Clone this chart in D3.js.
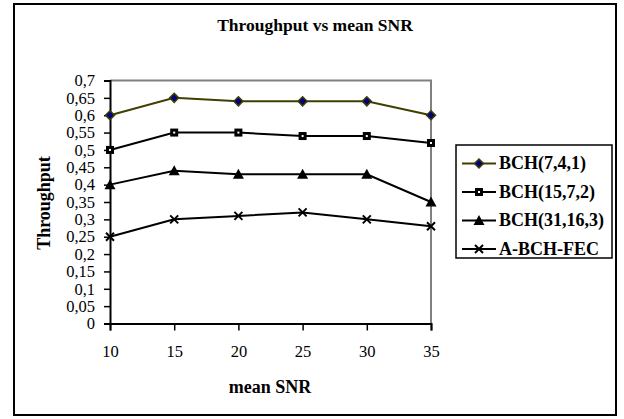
<!DOCTYPE html>
<html>
<head>
<meta charset="utf-8">
<script src="https://cdn.jsdelivr.net/npm/d3@7"></script>
<style>
  body { margin: 0; background: #fff; }
  svg text { font-family: "Liberation Serif", "Times New Roman", serif; fill: #000; }
  .tick text { font-size: 16.5px; }
  .title, .label, .legend text { font-weight: bold; }
</style>
</head>
<body>
<div id="chart"></div>
<script>
// data
var snr = [10, 15, 20, 25, 30, 35];
var bch741 = [0.60, 0.65, 0.64, 0.64, 0.64, 0.60];
var bch1572 = [0.50, 0.55, 0.55, 0.54, 0.54, 0.52];
var bch31163 = [0.40, 0.44, 0.43, 0.43, 0.43, 0.35];
var abchfec = [0.25, 0.30, 0.31, 0.32, 0.30, 0.28];
var yTicks = [0, 0.05, 0.1, 0.15, 0.2, 0.25, 0.3, 0.35, 0.4, 0.45, 0.5, 0.55, 0.6, 0.65, 0.7];

var series = [
  { name: "BCH(7,4,1)", values: bch741, color: "#3f3f00", marker: "diamond" },
  { name: "BCH(15,7,2)", values: bch1572, color: "#000", marker: "square" },
  { name: "BCH(31,16,3)", values: bch31163, color: "#000", marker: "triangle" },
  { name: "A-BCH-FEC", values: abchfec, color: "#000", marker: "cross" }
];

var margins = { left: 110, top: 80.5, width: 321, height: 243 };

var svg = d3.select("#chart").append("svg")
    .attr("width", 624).attr("height", 419);

// outer frame
svg.append("rect")
    .attr("x", 14).attr("y", 4)
    .attr("width", 602).attr("height", 411)
    .attr("fill", "none").attr("stroke", "#000").attr("stroke-width", 2);

var g = svg.append("g")
    .attr("transform", "translate(" + margins.left + "," + margins.top + ")");

var x = d3.scaleLinear().domain([10, 35]).range([0, margins.width]);
var y = d3.scaleLinear().domain([0, 0.7]).range([margins.height, 0]);

// gray top and right frame of plot area
g.append("path")
    .attr("d", "M0,0H" + margins.width + "V" + margins.height)
    .attr("fill", "none").attr("stroke", "#808080").attr("stroke-width", 2);

// x axis
var xAxis = g.append("g")
    .attr("transform", "translate(0," + margins.height + ")")
    .call(d3.axisBottom(x).tickValues(snr).tickSizeOuter(0).tickSize(7).tickPadding(15));

// y axis
var yAxis = g.append("g")
    .call(d3.axisLeft(y).tickValues(yTicks).tickSizeOuter(0).tickSize(6).tickPadding(9)
      .tickFormat(function (d) { return String(+d.toFixed(2)).replace(".", ","); }));

[xAxis, yAxis].forEach(function (a) {
  a.attr("font-family", null).attr("font-size", null);
  a.select(".domain").attr("stroke", "#000").attr("stroke-width", 2);
  a.selectAll(".tick line").attr("stroke", "#000").attr("stroke-width", 1.5);
});

function drawMarker(sel, type, color) {
  if (type === "diamond") {
    sel.append("path").attr("d", "M0,-4.5L4.5,0L0,4.5L-4.5,0Z")
      .attr("fill", "#000080").attr("stroke", color).attr("stroke-width", 1.5);
  } else if (type === "square") {
    sel.append("rect").attr("x", -2.5).attr("y", -2.5).attr("width", 5).attr("height", 5)
      .attr("fill", "#fff").attr("stroke", "#000").attr("stroke-width", 3);
  } else if (type === "triangle") {
    sel.append("path").attr("d", "M0,-5.5L5.5,4.5L-5.5,4.5Z").attr("fill", "#000");
  } else {
    sel.append("path").attr("d", "M-4,-4L4,4M-4,4L4,-4")
      .attr("stroke", "#000").attr("stroke-width", 2);
  }
}

var line = d3.line()
    .x(function (d, i) { return x(snr[i]); })
    .y(function (d) { return y(d); });

series.forEach(function (s) {
  g.append("path")
    .attr("d", line(s.values))
    .attr("fill", "none").attr("stroke", s.color).attr("stroke-width", 2);
  s.values.forEach(function (v, i) {
    var m = g.append("g").attr("transform", "translate(" + x(snr[i]) + "," + y(v) + ")");
    drawMarker(m, s.marker, s.color);
  });
});

// title and axis labels
svg.append("text").attr("class", "title")
    .attr("x", 315).attr("y", 31)
    .attr("text-anchor", "middle").attr("font-size", 17.5)
    .text("Throughput vs mean SNR");

svg.append("text").attr("class", "label")
    .attr("x", 270).attr("y", 393)
    .attr("text-anchor", "middle").attr("font-size", 18)
    .text("mean SNR");

svg.append("text").attr("class", "label")
    .attr("transform", "translate(50,203) rotate(-90)")
    .attr("text-anchor", "middle").attr("font-size", 18)
    .text("Throughput");

// legend
var legend = svg.append("g").attr("class", "legend");
legend.append("rect")
    .attr("x", 456).attr("y", 145)
    .attr("width", 156).attr("height", 113)
    .attr("fill", "#fff").attr("stroke", "#000").attr("stroke-width", 1.5);

series.forEach(function (s, i) {
  var ly = 163.5 + i * 28.5;
  legend.append("line")
    .attr("x1", 462).attr("x2", 496).attr("y1", ly).attr("y2", ly)
    .attr("stroke", s.color).attr("stroke-width", 2);
  var m = legend.append("g").attr("transform", "translate(479," + ly + ")");
  drawMarker(m, s.marker, s.color);
  legend.append("text")
    .attr("x", 499).attr("y", ly + 5.5)
    .attr("font-size", 18)
    .text(s.name);
});
</script>
</body>
</html>
